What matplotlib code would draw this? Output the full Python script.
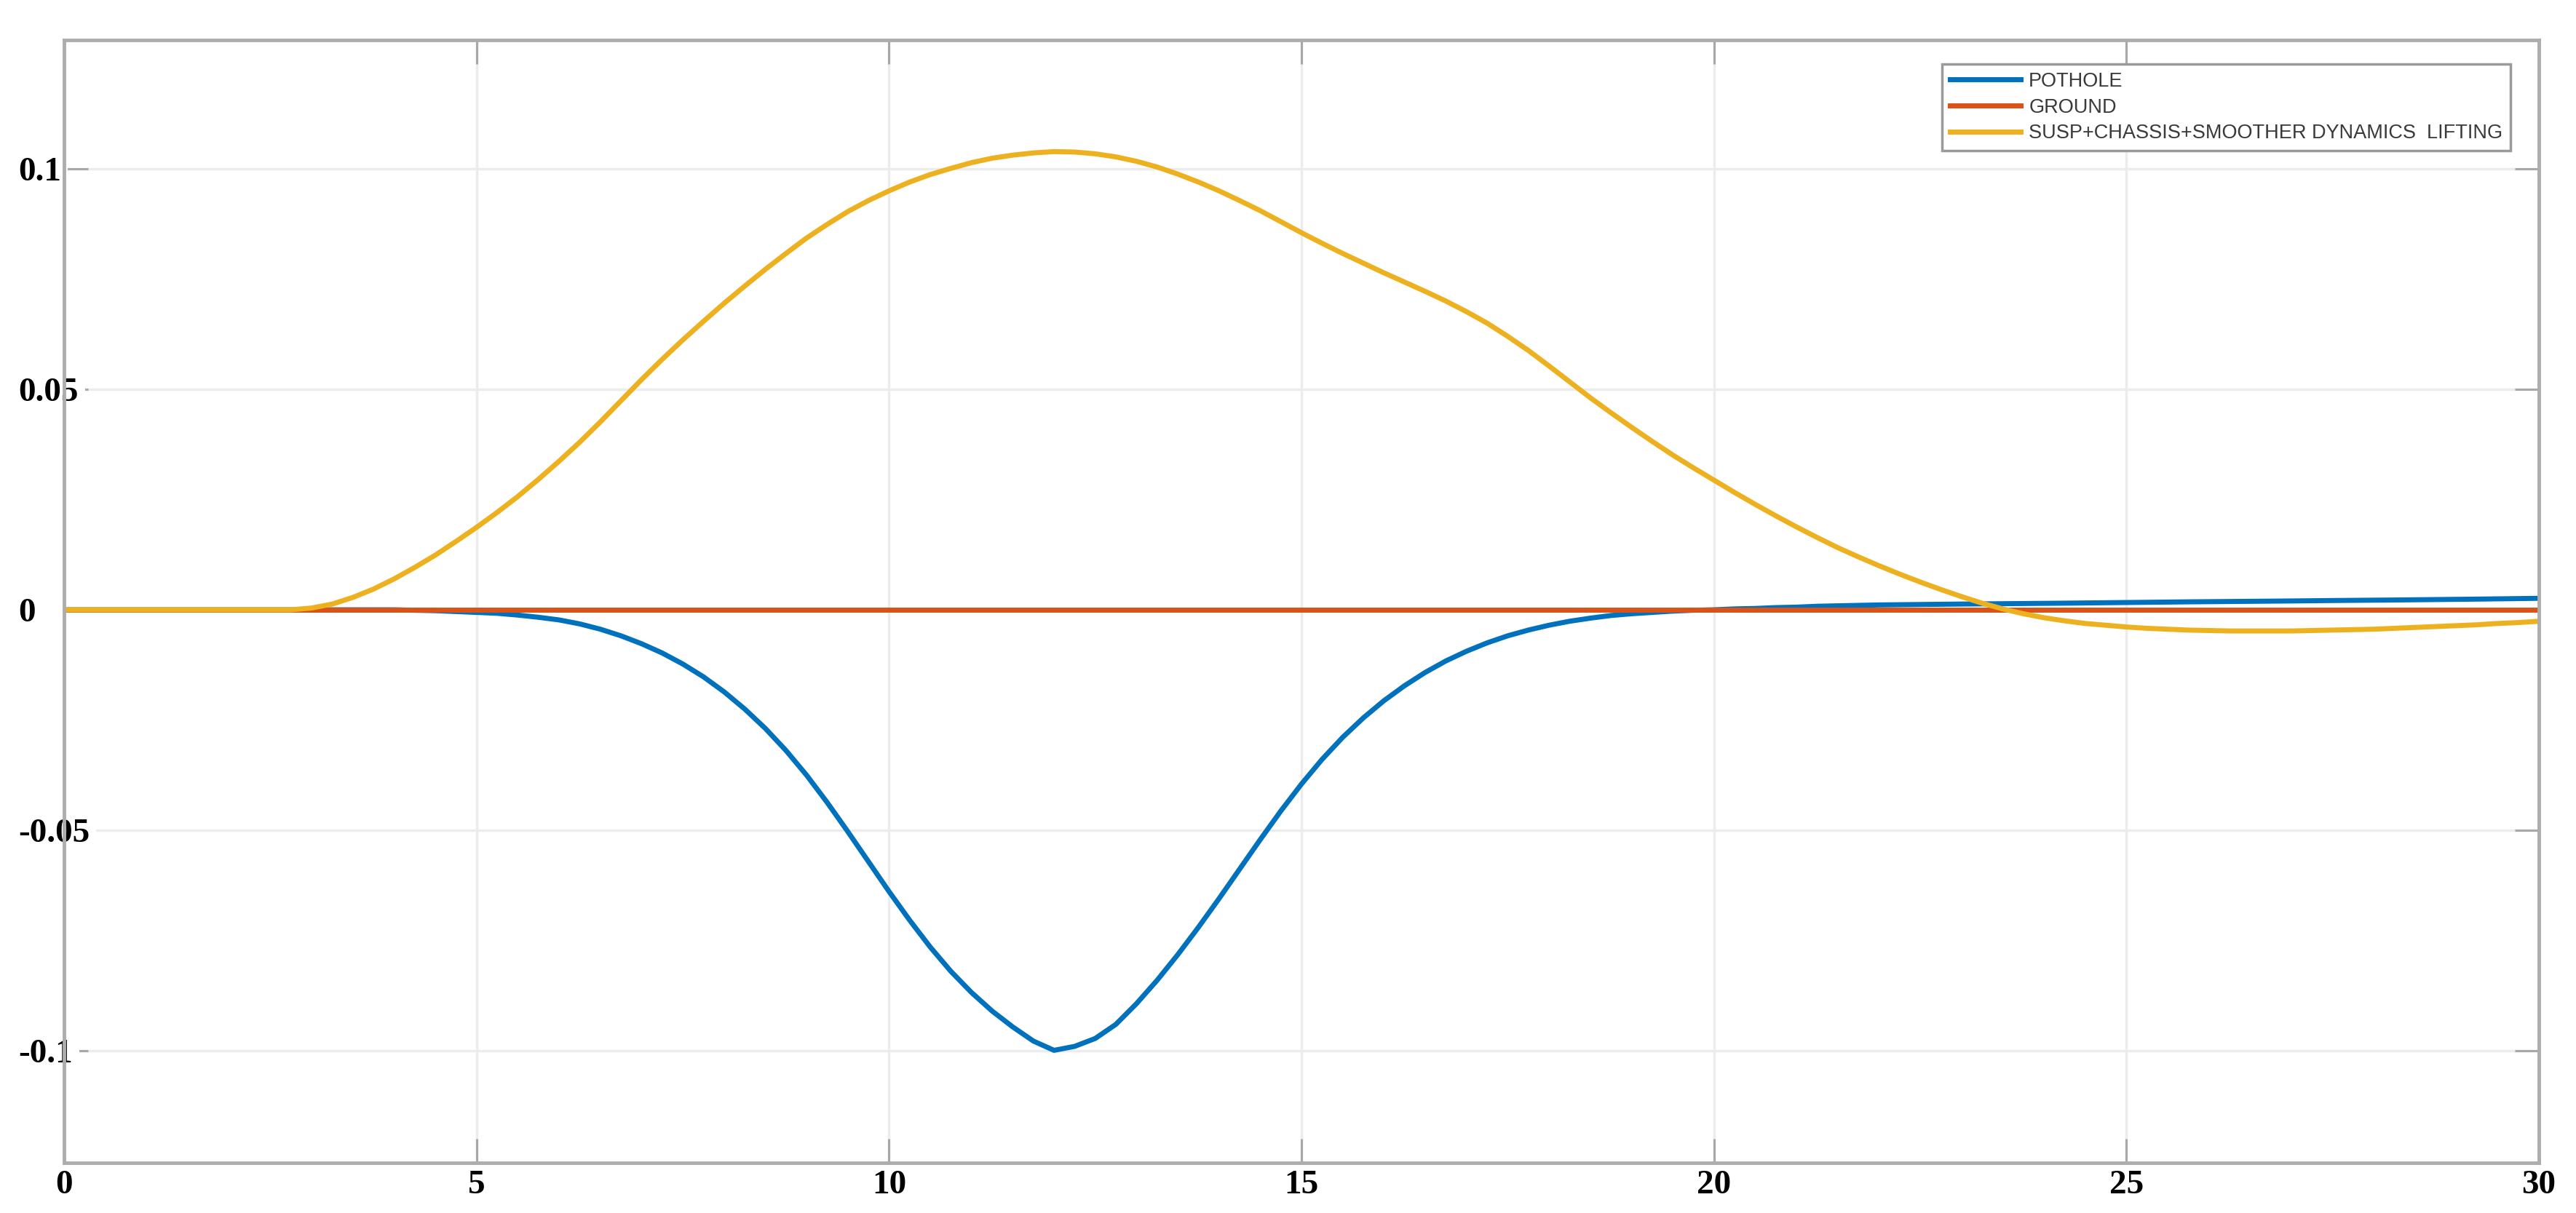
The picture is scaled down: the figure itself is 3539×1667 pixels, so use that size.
#script to redraw the pothole / suspension lifting response plot

import matplotlib.pyplot as plt

# sample times (s), every 0.25 s from 0 to 30
time = [i * 0.25 for i in range(121)]

# values at those times
pothole = [0, 0, 0, 0, 0, 0, 0, 0, 0, 0, 0, 0, 0, 0, 0, 0, 0,
           -0.0001, -0.0002, -0.0004, -0.0006, -0.0008, -0.0012, -0.0017, -0.0023,
           -0.0032, -0.0044, -0.0059, -0.0077, -0.0098, -0.0123, -0.0152, -0.0186,
           -0.0225, -0.0269, -0.0319, -0.0375, -0.0437, -0.0503, -0.0571, -0.0639,
           -0.0704, -0.0765, -0.0820, -0.0868, -0.0910, -0.0946, -0.0978, -0.0999,
           -0.0990, -0.0972, -0.0940, -0.0893, -0.0840, -0.0782, -0.0720, -0.0655,
           -0.0588, -0.0521, -0.0456, -0.0395, -0.0339, -0.0289, -0.0245, -0.0206,
           -0.0172, -0.0142, -0.0116, -0.0094, -0.0075, -0.0059, -0.0046, -0.0035,
           -0.0026, -0.0019, -0.0013, -0.0009, -0.0006, -0.0003, -0.0001, 0.0,
           0.0002, 0.0003, 0.0005, 0.0006, 0.0008, 0.0009, 0.0010, 0.0011,
           0.00115, 0.0012, 0.00125, 0.0013, 0.00134, 0.00138, 0.00142, 0.00146,
           0.0015, 0.00155, 0.0016, 0.00165, 0.0017, 0.00175, 0.0018, 0.00184,
           0.00188, 0.00192, 0.00196, 0.002, 0.00205, 0.0021, 0.00214, 0.00218,
           0.00222, 0.00227, 0.00232, 0.00237, 0.00242, 0.00248, 0.00254, 0.0026]

susp_lift = [0, 0, 0, 0, 0, 0, 0, 0, 0, 0, 0, 0,
             0.0004, 0.0013, 0.0028, 0.0047, 0.0070, 0.0096, 0.0124, 0.0155, 0.0187,
             0.0221, 0.0257, 0.0296, 0.0337, 0.0380, 0.0426, 0.0474, 0.0522, 0.0568,
             0.0612, 0.0654, 0.0695, 0.0734, 0.0772, 0.0808, 0.0843, 0.0874, 0.0903,
             0.0928, 0.0950, 0.0970, 0.0987, 0.1001, 0.1014, 0.1024, 0.1031, 0.1036,
             0.1039, 0.1038, 0.1034, 0.1027, 0.1017, 0.1004, 0.0988, 0.0970, 0.0950,
             0.0928, 0.0905, 0.0880, 0.0855, 0.0831, 0.0808, 0.0786, 0.0764, 0.0743,
             0.0722, 0.0700, 0.0676, 0.0650, 0.0620, 0.0588, 0.0553, 0.0517, 0.0481,
             0.0447, 0.0414, 0.0382, 0.0351, 0.0322, 0.0294, 0.0266, 0.0239, 0.0213,
             0.0188, 0.0164, 0.0141, 0.0120, 0.0100, 0.0081, 0.0063, 0.0046, 0.0030,
             0.0015, 0.0002, -0.0009, -0.0018, -0.0025, -0.0031, -0.0035, -0.0039,
             -0.0042, -0.0044, -0.0046, -0.0047, -0.0048, -0.0048, -0.0048, -0.0048,
             -0.0047, -0.0046, -0.0045, -0.0044, -0.0042, -0.0040, -0.0038, -0.0036,
             -0.0034, -0.0031, -0.0029, -0.0026]

ground_t = [0, 30]
ground = [0, 0]

labels = ["POTHOLE", "GROUND", "SUSP+CHASSIS+SMOOTHER DYNAMICS  LIFTING"]
xticks = [0, 5, 10, 15, 20, 25, 30]
yticks = [-0.1, -0.05, 0, 0.05, 0.1]
ytick_labels = ["-0.1", "-0.05", "0", "0.05", "0.1"]

fig = plt.figure(figsize=(35.39, 16.67), dpi=100)
ax = fig.add_axes([0.0249, 0.0414, 0.9607, 0.9256])

ax.plot(time, pothole, color="#0072BD", lw=5, label=labels[0])
ax.plot(ground_t, ground, color="#D95319", lw=5, label=labels[1])
ax.plot(time, susp_lift, color="#EDB120", lw=5, label=labels[2])

ax.set_xlim(0, 30)
ax.set_ylim(-0.1254, 0.1292)
ax.set_xticks(xticks)
ax.set_yticks(yticks)
ax.set_yticklabels(ytick_labels)

ax.grid(True, color="#ececec", lw=2.5)
ax.set_axisbelow(True)

for s in ax.spines.values():
    s.set_color("#adadad")
    s.set_linewidth(3.5)

ax.tick_params(direction="in", length=24, width=2.2, color="#a8a8a8",
               top=True, right=True, labelsize=34)
ax.tick_params(axis="x", pad=7)
ax.tick_params(axis="y", pad=45)

for lab in ax.get_xticklabels() + ax.get_yticklabels():
    lab.set_fontfamily("Liberation Serif")
    lab.set_fontweight("bold")
for lab in ax.get_yticklabels():
    lab.set_ha("left")
    lab.set_bbox(dict(facecolor="white", edgecolor="none", pad=6))

leg = ax.legend(loc="upper left", bbox_to_anchor=(2668 / 3539, 1 - 88 / 1667),
                bbox_transform=fig.transFigure, borderaxespad=0,
                prop={"family": "Liberation Sans", "size": 19.5},
                handlelength=3.6, handletextpad=0.4, borderpad=0.4,
                labelspacing=0.36, fancybox=False, framealpha=1)
leg.get_frame().set_edgecolor("#9a9a9a")
leg.get_frame().set_linewidth(2.5)
for txt in leg.get_texts():
    txt.set_color("#3a3a3a")

plt.savefig("out.png", dpi=100, facecolor="white")
